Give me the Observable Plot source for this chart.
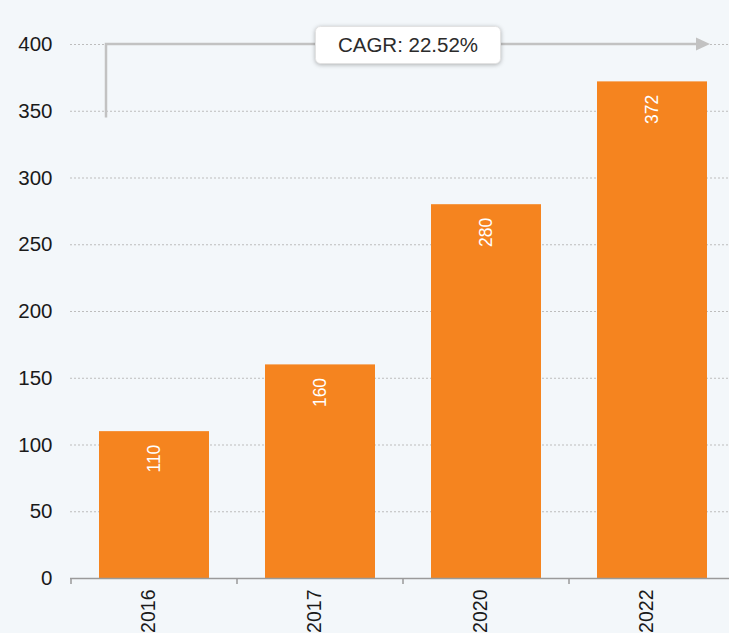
<!DOCTYPE html>
<html>
<head>
<meta charset="utf-8">
<script src="https://cdn.jsdelivr.net/npm/d3@7"></script>
<script src="https://cdn.jsdelivr.net/npm/@observablehq/plot@0.6"></script>
<style>
  html, body { margin: 0; padding: 0; background: #f3f7fa; overflow: hidden; }
  #chart svg { display: block; }
</style>
</head>
<body>
<div id="chart"></div>
<script>
// Market size by year
const years = ["2016", "2017", "2020", "2022"];
const values = [110, 160, 280, 372];
const yTicks = [0, 50, 100, 150, 200, 250, 300, 350, 400];
const arrowStartValue = 345; // bottom of the CAGR bracket

const data = years.map((year, i) => ({year, value: values[i]}));

// Compound annual growth rate between the first and last year
const first = data[0], last = data[data.length - 1];
const cagr = Math.pow(last.value / first.value, 1 / (+last.year - +first.year)) - 1;
const cagrLabel = `CAGR: ${(cagr * 100).toFixed(2)}%`;

const orange = "#f5841f";
const gray = "#c2c2c2";
const font = "'Liberation Sans', Arial, Helvetica, sans-serif";

// Tick marks at the edges of each band, hanging below the baseline
function bandEdgeTicks(index, scales) {
  const x = scales.x, y = scales.y;
  const step = x.step ? x.step() : x.bandwidth();
  const g = d3.create("svg:g").attr("stroke", "#9a9a9a").attr("stroke-width", 1.5);
  for (const year of years) {
    const left = x(year) + x.bandwidth() / 2 - step / 2;
    g.append("line").attr("x1", left).attr("x2", left).attr("y1", y(0)).attr("y2", y(0) + 6);
  }
  return g.node();
}

// Bracket arrow spanning the first to the last bar, with the CAGR label on it
function cagrArrow(index, scales) {
  const x = scales.x, y = scales.y;
  const x0 = x(first.year) + 7;
  const x1 = x(last.year) + x.bandwidth() + 3;
  const yTop = y(400);
  const yBottom = y(arrowStartValue);
  const g = d3.create("svg:g");
  g.append("path")
    .attr("d", `M${x0},${yBottom}V${yTop}H${x1 - 13}`)
    .attr("fill", "none")
    .attr("stroke", gray)
    .attr("stroke-width", 2.5);
  g.append("path")
    .attr("d", `M${x1},${yTop}L${x1 - 14},${yTop - 6.5}L${x1 - 14},${yTop + 6.5}Z`)
    .attr("fill", gray);
  const cx = (x0 + x1) / 2;
  const bw = 185, bh = 37;
  g.append("rect")
    .attr("x", cx - bw / 2).attr("y", yTop - bh / 2 + 1)
    .attr("width", bw).attr("height", bh)
    .attr("rx", 5)
    .attr("fill", "#ffffff")
    .attr("stroke", "#e2e2e2")
    .style("filter", "drop-shadow(0px 1px 2px rgba(0,0,0,0.28))");
  g.append("text")
    .attr("x", cx).attr("y", yTop + 1)
    .attr("dy", "0.35em")
    .attr("text-anchor", "middle")
    .attr("font-size", 20.5)
    .attr("fill", "#2b2b2b")
    .text(cagrLabel);
  return g.node();
}

const chart = Plot.plot({
  width: 729,
  height: 633,
  marginLeft: 70,
  marginRight: 0,
  marginTop: 44,
  marginBottom: 55,
  style: {background: "transparent", fontFamily: font, fontSize: "20.5px", color: "#1a1a1a"},
  x: {domain: years, range: [70, 736], paddingInner: 0.34, paddingOuter: 0.17, axis: null},
  y: {domain: [0, 400], ticks: yTicks, tickSize: 0, tickPadding: 18, label: null, tickFormat: d => String(d)},
  marks: [
    Plot.ruleY(yTicks.filter(d => d > 0), {stroke: "#bdbdbd", strokeWidth: 1, strokeDasharray: "2,2"}),
    Plot.barY(data, {x: "year", y: "value", fill: orange}),
    Plot.ruleY([0], {stroke: "#9a9a9a", strokeWidth: 1.5}),
    bandEdgeTicks,
    Plot.text(data, {
      x: "year", y: "value", text: d => String(d.value),
      rotate: -90, textAnchor: "end", dy: 13,
      fill: "#ffffff", fontSize: 17.5
    }),
    Plot.text(years, {
      x: d => d, frameAnchor: "bottom", text: d => d,
      rotate: -90, textAnchor: "end", dy: 11,
      fill: "#1a1a1a", fontSize: 19.5
    }),
    cagrArrow
  ]
});

document.getElementById("chart").appendChild(chart);
</script>
</body>
</html>
